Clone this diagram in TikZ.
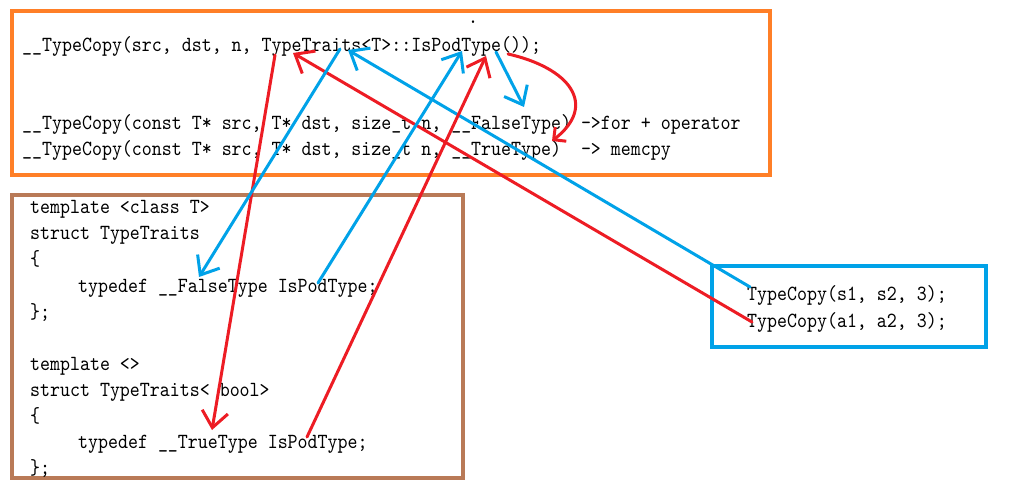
\documentclass[tikz,border=0pt]{standalone}
\usepackage{fontspec}
\newfontfamily\codefont{lmmono10-regular.otf}[FakeStretch=0.88]
\usetikzlibrary{arrows.meta}
\definecolor{boxorange}{HTML}{FF7F27}
\definecolor{boxbrown}{HTML}{B97A57}
\definecolor{paintblue}{HTML}{00A2E8}
\definecolor{paintred}{HTML}{ED1C24}
\begin{document}
\begin{tikzpicture}[x=1pt,y=-1pt,
  code/.style={anchor=base west, inner sep=0pt, font=\codefont\fontsize{21.6}{26}\selectfont\frenchspacing, text=black},
  frame/.style={draw, line width=3.5pt, inner sep=0pt, outer sep=0pt},
  redarrow/.style={draw=paintred, line width=3pt, line cap=round, -{Straight Barb[length=16pt,width=26pt]}},
  bluearrow/.style={draw=paintblue, line width=3pt, line cap=round, -{Straight Barb[length=16pt,width=26pt]}},
  smallred/.style={draw=paintred, line width=3pt, line cap=round, -{Straight Barb[length=9pt,width=18pt]}},
]
\useasboundingbox (0,0) rectangle (1009,486);
\fill[white] (0,0) rectangle (1009,486);

% frames
\node[frame, draw=boxorange, minimum width=758pt, minimum height=164pt] (topbox) at (391,93) {};
\node[frame, draw=boxbrown, minimum width=451pt, minimum height=283pt] (leftbox) at (237.5,336.5) {};
\node[frame, draw=paintblue, minimum width=274pt, minimum height=81pt] (rightbox) at (849,306.5) {};

% top box text
\node[code] (dot) at (468,24) {.};
\node[code] (t1) at (22,52) {\_\_TypeCopy(src, dst, n, TypeTraits<T>::IsPodType());};
\node[code] (t2) at (22,129.5) {\_\_TypeCopy(const T* src, T* dst, size\_t n, \_\_FalseType) ->for + operator};
\node[code] (t3) at (22,155.5) {\_\_TypeCopy(const T* src, T* dst, size\_t n, \_\_TrueType)\ \ -> memcpy};

% left box text
\node[code] (l1) at (30,214) {template <class T>};
\node[code] (l2) at (30,240) {struct TypeTraits};
\node[code] (l3) at (30,266) {\{};
\node[code] (l4) at (78,292) {typedef \_\_FalseType IsPodType;};
\node[code] (l5) at (30,318) {\};};
\node[code] (l6) at (30,370) {template <>};
\node[code] (l7) at (30,396) {struct TypeTraits< bool>};
\node[code] (l8) at (30,422) {\{};
\node[code] (l9) at (78,448) {typedef \_\_TrueType IsPodType;};
\node[code] (l10) at (30,474) {\};};

% right box text
\node[code] (r1) at (747,301) {TypeCopy(s1, s2, 3);};
\node[code] (r2) at (747,327) {TypeCopy(a1, a2, 3);};

% arrow end points
\coordinate (a1s) at (752,322); \coordinate (a1e) at (293,53);
\coordinate (a2s) at (750,287); \coordinate (a2e) at (348,50);
\coordinate (a3s) at (275,55);  \coordinate (a3e) at (212,430);
\coordinate (a4s) at (340,49);  \coordinate (a4e) at (199,277);
\coordinate (a5s) at (318,283); \coordinate (a5e) at (462,51);
\coordinate (a6s) at (307,437); \coordinate (a6e) at (486,56);
\coordinate (a7s) at (496,52);  \coordinate (a7e) at (524,107);
\coordinate (a8s) at (508,54);  \coordinate (a8e) at (552,141);

% arrows
\draw[redarrow]  (a1s) -- (a1e);
\draw[bluearrow] (a2s) -- (a2e);
\draw[redarrow]  (a3s) -- (a3e);
\draw[bluearrow] (a4s) -- (a4e);
\draw[bluearrow] (a5s) -- (a5e);
\draw[redarrow]  (a6s) -- (a6e);
\draw[bluearrow] (a7s) -- (a7e);
\draw[smallred]  (a8s) .. controls (570,68) and (598,105) .. (a8e);
\end{tikzpicture}
\end{document}
